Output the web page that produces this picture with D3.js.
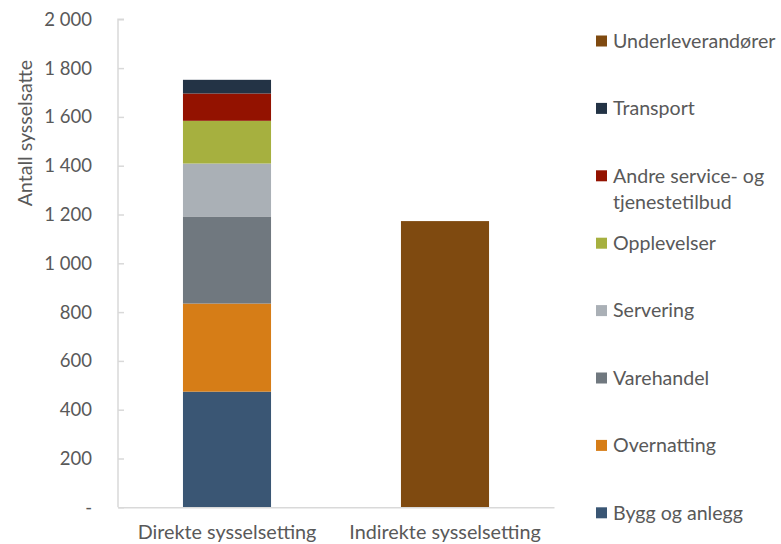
<!DOCTYPE html>
<html><head><meta charset="utf-8">
<script src="https://cdn.jsdelivr.net/npm/d3@7"></script>
<style>body{margin:0;background:#fff}svg{display:block}text{font-family:Lato,"Open Sans",sans-serif;fill:#595959}</style>
</head><body><svg id="c" width="781" height="544"></svg>
<script>
const categories = ["Direkte sysselsetting", "Indirekte sysselsetting"];
const seriesNames = ["Bygg og anlegg","Overnatting","Varehandel","Servering","Opplevelser","Andre service- og tjenestetilbud","Transport","Underleverandører"];
const seriesColors = ["#3a5674","#d67d17","#70787f","#aab0b6","#a6b03f","#931200","#233345","#7f4a10"];
const byggValues = [474, 0];
const overnattingValues = [361, 0];
const varehandelValues = [357, 0];
const serveringValues = [217, 0];
const opplevelserValues = [175, 0];
const andreValues = [112, 0];
const transportValues = [56, 0];
const underleverandorerValues = [0, 1173];
const yTicks = [0,200,400,600,800,1000,1200,1400,1600,1800,2000];
const legendOrder = ["Underleverandører","Transport","Andre service- og tjenestetilbud","Opplevelser","Servering","Varehandel","Overnatting","Bygg og anlegg"];
const legendLines = {"Andre service- og tjenestetilbud":["Andre service- og","tjenestetilbud"]};

const allValues = [byggValues,overnattingValues,varehandelValues,serveringValues,opplevelserValues,andreValues,transportValues,underleverandorerValues];
const rows = categories.map((c,i)=>{const r={cat:c}; seriesNames.forEach((s,j)=>r[s]=allValues[j][i]); return r;});
const stacked = d3.stack().keys(seriesNames)(rows);
const color = d3.scaleOrdinal(seriesNames, seriesColors);

const svg = d3.select("#c");
const x = d3.scaleBand(categories,[118,554]).paddingInner(0.596).paddingOuter(0.298);
const y = d3.scaleLinear([0,2000],[507.3,19.3]);

// y axis
const fmt = v => v===0 ? "-" : d3.format(",")(v).replace(/,/g," ");
const yAxis = svg.append("g").attr("transform","translate(118,0)")
  .call(d3.axisRight(y).tickValues(yTicks).tickSize(6).tickFormat(""));
yAxis.select(".domain").attr("stroke","#d9d9d9").attr("stroke-width",1.5).attr("d",`M6,${y(2000)}H0V${y(0)}`);
yAxis.selectAll(".tick line").attr("stroke","#d9d9d9").attr("stroke-width",1.5);
svg.append("g").selectAll("text").data(yTicks).join("text")
  .attr("x",92).attr("y",d=>y(d)).attr("dy","0.35em").attr("text-anchor","end")
  .style("font-size","18.5px").text(fmt);

// bars
svg.append("g").selectAll("g").data(stacked).join("g").attr("fill",d=>color(d.key))
  .selectAll("rect").data(d=>d.filter(p=>p[1]>p[0])).join("rect")
  .attr("x",d=>x(d.data.cat)).attr("width",x.bandwidth())
  .attr("y",d=>y(d[1])).attr("height",d=>y(d[0])-y(d[1]));

// x axis
const xAxis = svg.append("g").attr("transform",`translate(0,${y(0)})`)
  .call(d3.axisBottom(x).tickSize(0).tickPadding(18));
xAxis.select(".domain").attr("stroke","#d9d9d9").attr("stroke-width",1.5);
xAxis.selectAll("text").style("font-size","19.8px").style("font-family","Lato, sans-serif").attr("fill","#595959");

// y title
svg.append("text").attr("transform","translate(25,133) rotate(-90)").attr("dy","0.35em").attr("text-anchor","middle")
  .style("font-size","19.5px").text("Antall sysselsatte");

// legend
const lg = svg.append("g").selectAll("g").data(legendOrder).join("g")
  .attr("transform",(d,i)=>`translate(596,${41+i*67.4})`);
lg.append("rect").attr("x",0).attr("y",-5.5).attr("width",11).attr("height",11).attr("fill",d=>color(d));
lg.each(function(d){
  const lines = legendLines[d] || [d];
  const t = d3.select(this).append("text").attr("x",17).attr("y",0).style("font-size","19.6px");
  lines.forEach((l,k)=>t.append("tspan").attr("x",17).attr("dy",k===0?"0.35em":"26px").text(l));
});
</script></body></html>
